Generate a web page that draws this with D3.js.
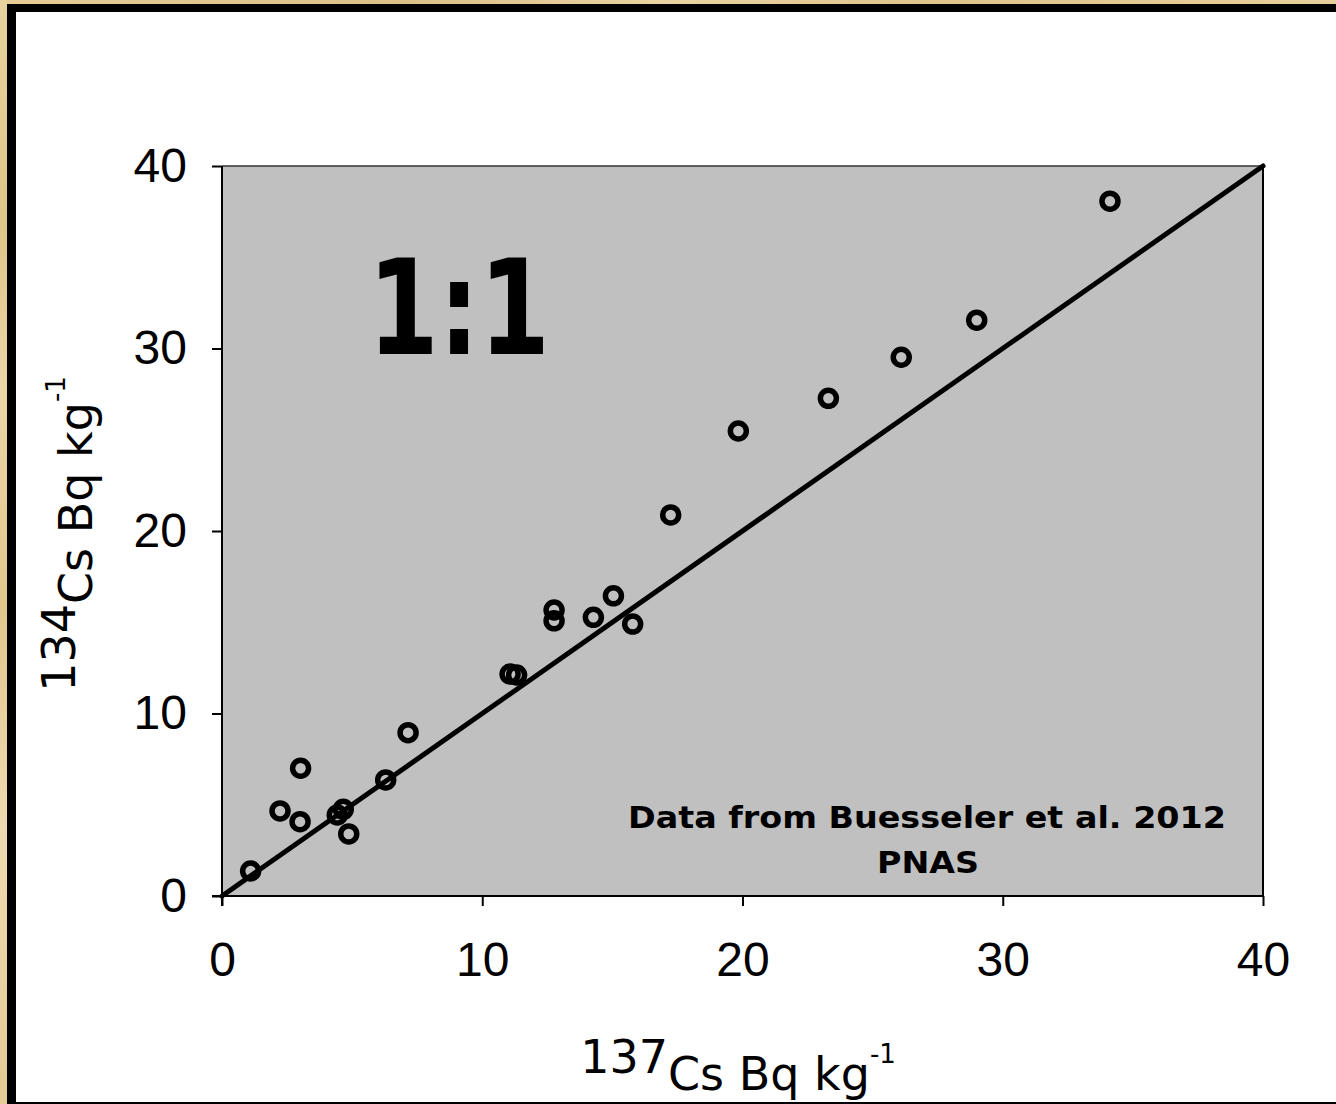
<!DOCTYPE html>
<html>
<head>
<meta charset="utf-8">
<script src="https://cdn.jsdelivr.net/npm/d3@7"></script>
<style>
  html, body { margin: 0; padding: 0; background: #fff; }
  svg { display: block; }
</style>
</head>
<body>
<svg id="chart" width="1336" height="1104"></svg>
<script>
// ---- data ----
const cs137 = [1.10, 2.23, 3.00, 3.02, 4.43, 4.66, 4.87, 6.29, 7.15, 11.07, 11.32, 12.76, 12.76, 14.27, 15.04, 15.78, 17.24, 19.84, 23.30, 26.10, 29.00, 34.12];
const cs134 = [1.37, 4.66, 4.07, 7.00, 4.44, 4.75, 3.40, 6.36, 8.95, 12.16, 12.11, 15.67, 15.08, 15.27, 16.45, 14.90, 20.88, 25.48, 27.27, 29.52, 31.55, 38.07];
const oneToOne = [[0, 0], [40, 40]];
const xTicks = [0, 10, 20, 30, 40];
const yTicks = [0, 10, 20, 30, 40];
const ratioLabel = "1:1";
const noteLines = ["Data from Buesseler et al. 2012", "PNAS"];

const svg = d3.select("#chart");
const W = 1336, H = 1104;
const comic = "'DejaVu Sans', Verdana, sans-serif";
const tickFont = "'Liberation Sans', Arial, sans-serif";

// ---- frame ----
const defs = svg.append("defs");
const gradV = defs.append("linearGradient").attr("id", "tanV").attr("x1", 0).attr("y1", 0).attr("x2", 0).attr("y2", 1);
[["0", "#e9d29e"], ["0.2", "#dfc48a"], ["0.35", "#ecd6a6"], ["0.55", "#e2c68e"], ["0.75", "#efdab0"], ["1", "#e4ca94"]]
  .forEach(([o, c]) => gradV.append("stop").attr("offset", o).attr("stop-color", c));
const gradH = defs.append("linearGradient").attr("id", "tanH").attr("x1", 0).attr("y1", 0).attr("x2", 1).attr("y2", 0);
[["0", "#e6cd98"], ["0.3", "#dcc088"], ["0.5", "#ead3a2"], ["0.7", "#e0c48c"], ["1", "#e8d09c"]]
  .forEach(([o, c]) => gradH.append("stop").attr("offset", o).attr("stop-color", c));

svg.append("rect").attr("x", 0).attr("y", 0).attr("width", W).attr("height", H).attr("fill", "#fff");
svg.append("rect").attr("x", 0).attr("y", 0).attr("width", W).attr("height", 4).attr("fill", "url(#tanH)");
svg.append("rect").attr("x", 0).attr("y", 0).attr("width", 7).attr("height", H).attr("fill", "url(#tanV)");
svg.append("rect").attr("x", 7).attr("y", 4).attr("width", W - 7).attr("height", 8).attr("fill", "#000");
svg.append("rect").attr("x", 7).attr("y", 4).attr("width", 9).attr("height", H - 4).attr("fill", "#000");
svg.append("rect").attr("x", 7).attr("y", H - 2).attr("width", W - 7).attr("height", 2).attr("fill", "#000");

// ---- plot ----
const margin = { left: 222, top: 166 };
const pw = 1041, ph = 730;
const x = d3.scaleLinear().domain([0, 40]).range([0, pw]);
const y = d3.scaleLinear().domain([0, 40]).range([ph, 0]);

const g = svg.append("g").attr("transform", `translate(${margin.left},${margin.top})`);

g.append("rect").attr("x", 0).attr("y", 0).attr("width", pw).attr("height", ph)
  .attr("fill", "#c0c0c0").attr("stroke", "none");
g.append("line").attr("x1", 0).attr("x2", pw).attr("y1", 0).attr("y2", 0).attr("stroke", "#333").attr("stroke-width", 1.5);
g.append("line").attr("x1", pw).attr("x2", pw).attr("y1", 0).attr("y2", ph).attr("stroke", "#000").attr("stroke-width", 2);

// axes
const xAxis = d3.axisBottom(x).tickValues(xTicks).tickSize(10).tickPadding(36).tickFormat(d3.format("d"));
const yAxis = d3.axisLeft(y).tickValues(yTicks).tickSize(10).tickPadding(25).tickFormat(d3.format("d"));

const gx = g.append("g").attr("transform", `translate(0,${ph})`).call(xAxis);
const gy = g.append("g").call(yAxis);
[gx, gy].forEach(a => {
  a.select(".domain").attr("stroke", "#000").attr("stroke-width", 2);
  a.selectAll(".tick line").attr("stroke", "#000").attr("stroke-width", 2);
  a.selectAll(".tick text").attr("font-family", tickFont).attr("font-size", 48).attr("fill", "#000");
});
gx.select(".domain").attr("d", `M-10,0H${pw}`);
gy.select(".domain").attr("d", `M0,${ph + 10}V0`);

// 1:1 line
g.append("path")
  .datum(oneToOne)
  .attr("d", d3.line().x(d => x(d[0])).y(d => y(d[1])))
  .attr("stroke", "#000").attr("stroke-width", 5).attr("fill", "none").attr("stroke-linecap", "round");

// points
g.selectAll("circle.pt").data(cs137.map((v, i) => [v, cs134[i]]))
  .join("circle").attr("class", "pt")
  .attr("cx", d => x(d[0])).attr("cy", d => y(d[1])).attr("r", 8)
  .attr("fill", "none").attr("stroke", "#000").attr("stroke-width", 5.5);

// "1:1" label
svg.append("text").attr("x", 368).attr("y", 354)
  .attr("font-family", comic).attr("font-weight", "bold").attr("font-size", 132)
  .attr("textLength", 182).attr("lengthAdjust", "spacingAndGlyphs")
  .attr("fill", "#000").text(ratioLabel);

// note
svg.append("text").attr("x", 927).attr("y", 828).attr("text-anchor", "middle")
  .attr("font-family", comic).attr("font-weight", "bold").attr("font-size", 31)
  .attr("textLength", 598).attr("lengthAdjust", "spacingAndGlyphs")
  .attr("fill", "#000").text(noteLines[0]);
svg.append("text").attr("x", 928).attr("y", 873).attr("text-anchor", "middle")
  .attr("font-family", comic).attr("font-weight", "bold").attr("font-size", 31)
  .attr("textLength", 102).attr("lengthAdjust", "spacingAndGlyphs")
  .attr("fill", "#000").text(noteLines[1]);

// x axis title
const xt = svg.append("text").attr("x", 738).attr("y", 1090).attr("text-anchor", "middle")
  .attr("font-family", comic).attr("font-size", 46).attr("fill", "#000");
xt.append("tspan").attr("dy", -17).text("137");
xt.append("tspan").attr("dy", 17).text("Cs Bq kg");
xt.append("tspan").attr("dy", -27).attr("font-size", 26).text("-1");

// y axis title
const yt = svg.append("text").attr("transform", "translate(92,534) rotate(-90)").attr("text-anchor", "middle")
  .attr("font-family", comic).attr("font-size", 46).attr("fill", "#000");
yt.append("tspan").attr("dy", -17).text("134");
yt.append("tspan").attr("dy", 17).text("Cs Bq kg");
yt.append("tspan").attr("dy", -27).attr("font-size", 26).text("-1");
</script>
</body>
</html>
